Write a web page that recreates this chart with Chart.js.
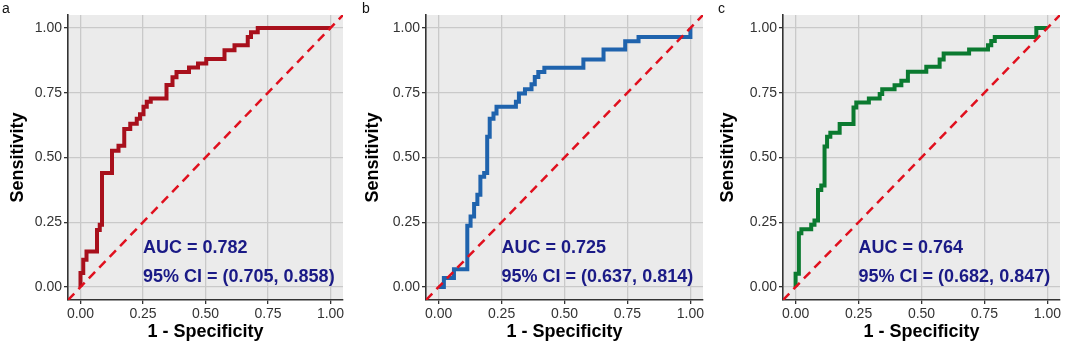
<!DOCTYPE html>
<html>
<head>
<meta charset="utf-8">
<script src="https://cdn.jsdelivr.net/npm/chart.js@4.4.1/dist/chart.umd.min.js"></script>
<style>
body { margin:0; background:#fff; width:1065px; height:345px; position:relative; overflow:hidden; }
canvas { position:absolute; top:0; }
</style>
</head>
<body>
<canvas id="rocA" width="355" height="345" style="left:0px"></canvas>
<canvas id="rocB" width="355" height="345" style="left:355px"></canvas>
<canvas id="rocC" width="355" height="345" style="left:710px"></canvas>
<script>
// roc data (1 - specificity, sensitivity)
const fprA = [0, 0, 0.011, 0.024, 0.066, 0.077, 0.086, 0.126, 0.152, 0.175, 0.199, 0.225, 0.238, 0.252, 0.265, 0.281, 0.344, 0.368, 0.384, 0.434, 0.47, 0.503, 0.576, 0.616, 0.669, 0.682, 0.709, 1];
const tprA = [0, 0.054, 0.105, 0.137, 0.22, 0.24, 0.44, 0.526, 0.545, 0.61, 0.63, 0.65, 0.667, 0.696, 0.715, 0.728, 0.78, 0.81, 0.83, 0.847, 0.863, 0.88, 0.914, 0.933, 0.965, 0.983, 1, 1];

const fprB = [0, 0.021, 0.061, 0.114, 0.127, 0.141, 0.154, 0.166, 0.181, 0.193, 0.203, 0.218, 0.23, 0.307, 0.319, 0.343, 0.369, 0.382, 0.396, 0.42, 0.575, 0.655, 0.741, 0.794, 1];
const tprB = [0, 0.035, 0.069, 0.237, 0.272, 0.321, 0.356, 0.426, 0.44, 0.58, 0.65, 0.67, 0.696, 0.715, 0.747, 0.763, 0.783, 0.811, 0.83, 0.846, 0.878, 0.917, 0.949, 0.965, 1];

const fprC = [0, 0, 0.013, 0.023, 0.062, 0.075, 0.089, 0.102, 0.115, 0.125, 0.138, 0.175, 0.23, 0.241, 0.291, 0.334, 0.344, 0.393, 0.42, 0.446, 0.519, 0.572, 0.588, 0.689, 0.764, 0.777, 0.791, 0.956, 1];
const tprC = [0, 0.051, 0.208, 0.223, 0.24, 0.257, 0.375, 0.392, 0.542, 0.58, 0.596, 0.629, 0.693, 0.712, 0.728, 0.745, 0.763, 0.779, 0.796, 0.831, 0.85, 0.878, 0.901, 0.917, 0.933, 0.95, 0.965, 1, 1];

const panelLetters = ['a', 'b', 'c'];
const aucValues = ['0.782', '0.725', '0.764'];
const ciLow = ['0.705', '0.637', '0.682'];
const ciHigh = ['0.858', '0.814', '0.847'];
const tickVals = [0, 0.25, 0.5, 0.75, 1];
const refLine = [-0.05, 1.05];

const FONT = '"Liberation Sans", Arial, sans-serif';

function makeRoc(id, idx, fpr, tpr, color, plotLeft, padRight) {
  const pts = fpr.map((v, i) => ({ x: v, y: tpr[i] }));
  const diag = refLine.map(v => ({ x: v, y: v }));

  const bgPlugin = {
    id: 'panelBg',
    beforeDraw(chart) {
      const { ctx, chartArea: a } = chart;
      ctx.save();
      ctx.fillStyle = '#EBEBEB';
      ctx.fillRect(a.left, a.top, a.right - a.left, a.bottom - a.top);
      ctx.restore();
    },
    afterDatasetsDraw(chart) {
      const { ctx, scales } = chart;
      const x = scales.x.getPixelForValue(0.25);
      ctx.save();
      ctx.fillStyle = '#1A1A86';
      ctx.font = 'bold 18px ' + FONT;
      ctx.textAlign = 'left';
      ctx.textBaseline = 'middle';
      ctx.fillText('AUC = ' + aucValues[idx], x, scales.y.getPixelForValue(0.15));
      ctx.fillText('95% CI = (' + ciLow[idx] + ', ' + ciHigh[idx] + ')', x, scales.y.getPixelForValue(0.04));
      ctx.restore();
    },
    afterDraw(chart) {
      const ctx = chart.ctx;
      ctx.save();
      ctx.fillStyle = '#111';
      ctx.font = '14px ' + FONT;
      ctx.textBaseline = 'alphabetic';
      ctx.fillText(panelLetters[idx], idx === 0 ? 2 : (idx === 1 ? 7 : 8), 13);
      ctx.restore();
    }
  };

  const axis = (title) => ({
    type: 'linear',
    min: -0.05,
    max: 1.05,
    afterBuildTicks: s => { s.ticks = tickVals.map(v => ({ value: v })); },
    ticks: {
      color: '#333',
      font: { family: FONT, size: 14 },
      padding: 2,
      callback: v => v.toFixed(2)
    },
    grid: { color: '#C9C9C9', lineWidth: 1.3, tickColor: '#333', tickLength: 4 },
    border: { display: true, color: '#333', width: 1.6 },
    title: { display: true, text: title, color: '#000', font: { family: FONT, size: 18, weight: 'bold' } }
  });

  const xAxis = axis('1 - Specificity');
  xAxis.title.padding = { top: 0, bottom: 2 };
  xAxis.ticks.padding = 2;
  xAxis.afterFit = s => { s.height = 45; };
  const yAxis = axis('Sensitivity');
  yAxis.title.padding = { top: 7, bottom: 0 };
  yAxis.afterFit = s => { s.width = plotLeft; };

  return new Chart(document.getElementById(id), {
    type: 'scatter',
    data: {
      datasets: [
        { data: diag, showLine: true, borderColor: '#E0101E', borderWidth: 2.5, borderDash: [9, 6], pointRadius: 0 },
        { data: pts, showLine: true, stepped: 'before', borderColor: color, borderWidth: 4, pointRadius: 0, borderJoinStyle: 'miter' }
      ]
    },
    options: {
      responsive: false,
      animation: false,
      layout: { padding: { left: 0, right: padRight, top: 15, bottom: 0 } },
      plugins: { legend: { display: false }, tooltip: { enabled: false } },
      scales: { x: xAxis, y: yAxis }
    },
    plugins: [bgPlugin]
  });
}

makeRoc('rocA', 0, fprA, tprA, '#A8101C', 68, 12);
makeRoc('rocB', 1, fprB, tprB, '#1F63AD', 71, 7);
makeRoc('rocC', 2, fprC, tprC, '#0B7A30', 73, 5);
</script>
</body>
</html>
